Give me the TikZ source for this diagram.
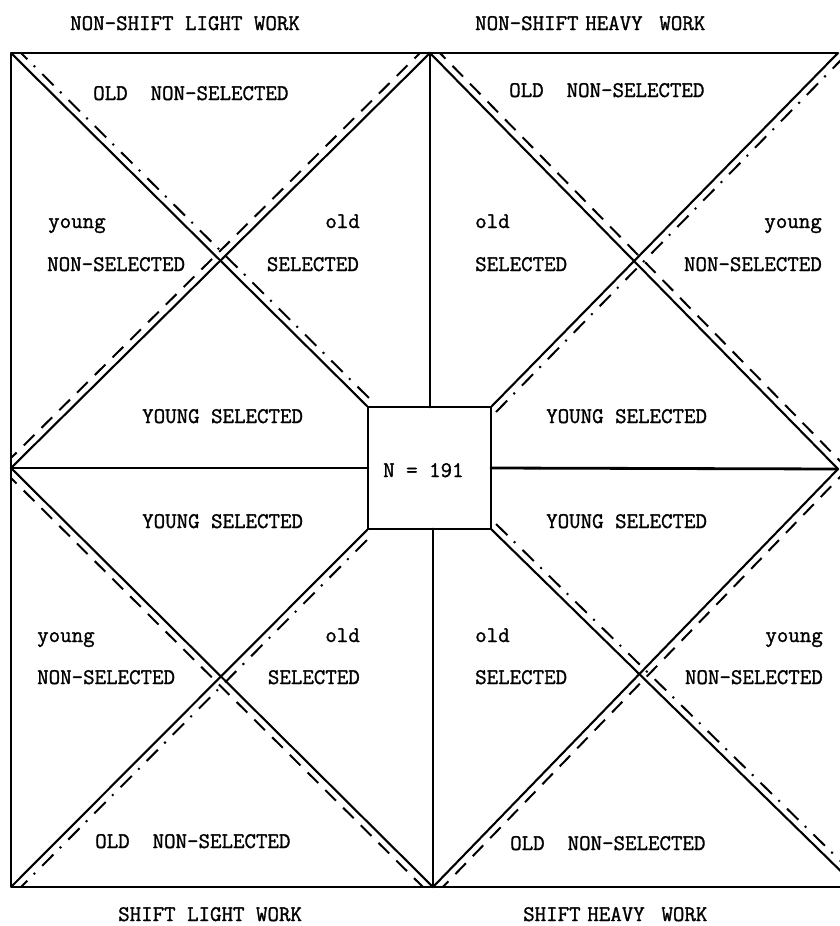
\documentclass[tikz,border=0pt]{standalone}
\usepackage{fontspec}
\newfontfamily\tw{Latin Modern Mono}[FakeBold=1.3]
\usetikzlibrary{calc}
\begin{document}
\begin{tikzpicture}[x=1pt,y=-1pt,
  frame/.style={line width=2.8pt, line cap=round, line join=round},
  diag/.style={line width=2.1pt},
  dashln/.style={line width=2pt, dash pattern=on 15pt off 10pt},
  dotdash/.style={line width=2pt, dash pattern=on 16pt off 9pt on 2pt off 10pt},
  lbl/.style={inner sep=0pt, font=\tw\fontsize{22.3}{26}\selectfont}]
\useasboundingbox (0,0) rectangle (840,926);
% corners
\coordinate (TL) at (11,53);
\coordinate (TC) at (430,53);
\coordinate (TR) at (838,53);
\coordinate (ML) at (11,468);
\coordinate (MR) at (838,469);
\coordinate (BL) at (11,887);
\coordinate (BC) at (433,887);
\coordinate (BRd) at (857,887);
\coordinate (BRr) at (850,887);
% central box
\node[draw, frame, outer sep=0pt, inner sep=0pt, minimum width=123pt, minimum height=122pt] (box) at (429.5,468) {};
\node[lbl, anchor=base west] (nlab) at (383,477) {N = 191};
% frame lines
\draw[frame] (TR) -- (TL) -- (BL) -- (BRr);
\draw[frame] (TC) -- (box.north -| TC);
\draw[frame] (box.south -| BC) -- (BC);
\draw[frame] (ML) -- (box.west);
\draw[frame] (box.east) -- (MR);
% solid diagonals
\draw[diag] (TL) -- (box.north west);
\draw[diag] (ML) -- (TC);
\draw[diag] (TC) -- (MR);
\draw[diag] (box.north east) -- (TR);
\draw[diag] (ML) -- (BC);
\draw[diag] (BL) -- (box.south west);
\draw[diag] (box.south east) -- (BRd);
\draw[diag] (BC) -- (MR);
% companion lines, clipped to each quadrant
\begin{scope}
  \clip (TL) rectangle (box.west -| TC);
  \draw[dotdash] ($(TL)+(5,-5)$) -- ($(box.north west)+(5,-5)$);
  \draw[dashln] ($(ML)+(-5,-5)$) -- ($(TC)+(-5,-5)$);
\end{scope}
\begin{scope}
  \clip (TC) rectangle (860,469);
  \draw[dashln] ($(TC)+(5,-5)$) -- ($(MR)+(5,-5)$);
  \draw[dotdash] ($(box.north east)+(5,5)$) -- ($(TR)+(5,5)$);
\end{scope}
\begin{scope}
  \clip (ML) rectangle (BC);
  \draw[dashln] ($(ML)+(-5,5)$) -- ($(BC)+(-5,5)$);
  \draw[dotdash] ($(BL)+(5,5)$) -- ($(box.south west)+(5,5)$);
\end{scope}
\begin{scope}
  \clip (433,469) rectangle (860,887);
  \draw[dotdash] ($(box.south east)+(5,-5)$) -- ($(BRd)+(5,-5)$);
  \draw[dashln] ($(BC)+(5,5)$) -- ($(MR)+(5,5)$);
\end{scope}
% titles
\node[lbl, anchor=base west] (t1) at (70,30) {NON-SHIFT LIGHT WORK};
\node[lbl, anchor=base west] (t2) at (475,30) {NON-SHIFT\hspace{0.3em}HEAVY\hspace{0.75em}WORK};
\node[lbl, anchor=base west] (t3) at (118,921) {SHIFT LIGHT WORK};
\node[lbl, anchor=base west] (t4) at (523,921) {SHIFT\hspace{0.3em}HEAVY\hspace{0.75em}WORK};
% top-left quadrant
\node[lbl, anchor=base west] (a1) at (93,100) {OLD\ \ NON-SELECTED};
\node[lbl, anchor=base west] (a2) at (48,228) {young};
\node[lbl, anchor=base west] (a3) at (47,271) {NON-SELECTED};
\node[lbl, anchor=base east] (a4) at (360,228) {old};
\node[lbl, anchor=base east] (a5) at (359,271) {SELECTED};
\node[lbl, anchor=base west] (a6) at (142,423) {YOUNG SELECTED};
% top-right quadrant
\node[lbl, anchor=base west] (b1) at (509,97) {OLD\ \ NON-SELECTED};
\node[lbl, anchor=base west] (b2) at (475,228) {old};
\node[lbl, anchor=base west] (b3) at (475,271) {SELECTED};
\node[lbl, anchor=base east] (b4) at (822,228) {young};
\node[lbl, anchor=base east] (b5) at (822,271) {NON-SELECTED};
\node[lbl, anchor=base west] (b6) at (546,423) {YOUNG SELECTED};
% bottom-left quadrant
\node[lbl, anchor=base west] (c1) at (142,528) {YOUNG SELECTED};
\node[lbl, anchor=base west] (c2) at (37,642) {young};
\node[lbl, anchor=base west] (c3) at (37,684) {NON-SELECTED};
\node[lbl, anchor=base east] (c4) at (360,642) {old};
\node[lbl, anchor=base east] (c5) at (360,684) {SELECTED};
\node[lbl, anchor=base west] (c6) at (95,848) {OLD\ \ NON-SELECTED};
% bottom-right quadrant
\node[lbl, anchor=base west] (d1) at (546,528) {YOUNG SELECTED};
\node[lbl, anchor=base west] (d2) at (475,642) {old};
\node[lbl, anchor=base west] (d3) at (475,684) {SELECTED};
\node[lbl, anchor=base east] (d4) at (823,642) {young};
\node[lbl, anchor=base east] (d5) at (823,684) {NON-SELECTED};
\node[lbl, anchor=base west] (d6) at (510,850) {OLD\ \ NON-SELECTED};
\end{tikzpicture}
\end{document}
